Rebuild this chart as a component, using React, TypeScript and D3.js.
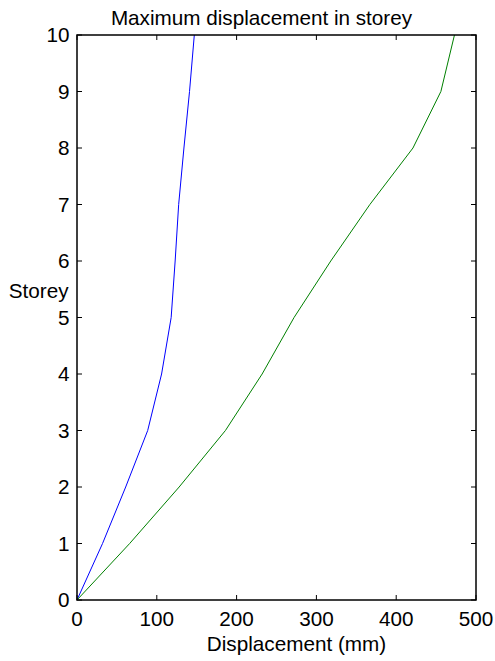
import React from "react";
import * as d3 from "d3";

const storeys = [0, 1, 2, 3, 4, 5, 6, 7, 8, 9, 10];
const blueDisp = [0, 32, 61, 88.6, 106, 118, 123, 127.4, 134, 141, 147];
const greenDisp = [0, 66, 128, 186, 232, 272, 318, 367, 421, 456, 473];
const xTicks = [0, 100, 200, 300, 400, 500];
const yTicks = [0, 1, 2, 3, 4, 5, 6, 7, 8, 9, 10];

const W = 495;
const H = 661;
const left = 77;
const right = 476;
const top = 35;
const bottom = 600;
const FONT = "Liberation Sans, Arial, sans-serif";
const FS = 20.7;

export default function App() {
  const x = d3.scaleLinear().domain([0, 500]).range([left, right]);
  const y = d3.scaleLinear().domain([0, 10]).range([bottom, top]);
  const line = d3
    .line<[number, number]>()
    .x((d) => x(d[0]))
    .y((d) => y(d[1]));
  const blue = line(storeys.map((s, i) => [blueDisp[i], s]));
  const green = line(storeys.map((s, i) => [greenDisp[i], s]));
  const tl = 5;
  return (
    <svg
      width={W}
      height={H}
      style={{ position: "absolute", left: 0, top: 0, background: "#fff" }}
      fontFamily={FONT}
    >
      <rect x={0} y={0} width={W} height={H} fill="#fff" />
      <path d={blue || ""} fill="none" stroke="#0000ff" strokeWidth={1} />
      <path d={green || ""} fill="none" stroke="#008000" strokeWidth={1} />
      {xTicks.map((t) => (
        <g key={"x" + t}>
          <line x1={x(t)} x2={x(t)} y1={bottom} y2={bottom - tl} stroke="#000" />
          <line x1={x(t)} x2={x(t)} y1={top} y2={top + tl} stroke="#000" />
          <text x={x(t)} y={626} textAnchor="middle" fontSize={FS} fill="#000">
            {t}
          </text>
        </g>
      ))}
      {yTicks.map((t) => (
        <g key={"y" + t}>
          <line x1={left} x2={left + tl} y1={y(t)} y2={y(t)} stroke="#000" />
          <line x1={right} x2={right - tl} y1={y(t)} y2={y(t)} stroke="#000" />
          <text
            x={69.5}
            y={y(t)}
            dy="0.35em"
            textAnchor="end"
            fontSize={FS}
            fill="#000"
          >
            {t}
          </text>
        </g>
      ))}
      <rect
        x={left}
        y={top}
        width={right - left}
        height={bottom - top}
        fill="none"
        stroke="#000"
        strokeWidth={1.5}
      />
      <text x={261.5} y={25} textAnchor="middle" fontSize={FS} fill="#000">
        Maximum displacement in storey
      </text>
      <text x={296.5} y={651} textAnchor="middle" fontSize={FS} fill="#000">
        Displacement (mm)
      </text>
      <text x={68.5} y={298} textAnchor="end" fontSize={FS} fill="#000">
        Storey
      </text>
    </svg>
  );
}
